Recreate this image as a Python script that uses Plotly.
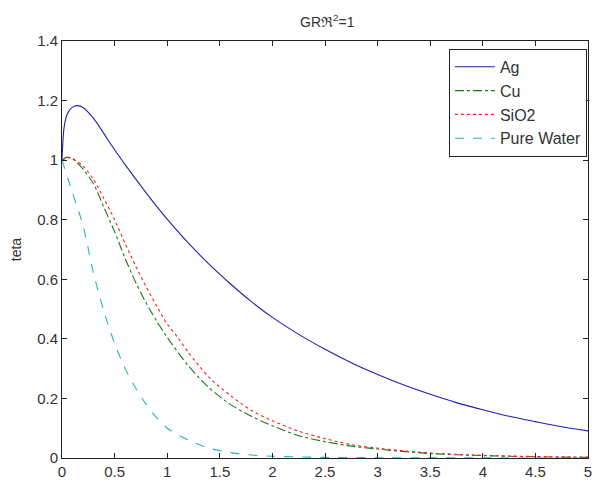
import plotly.graph_objects as go

# ---- data ----
ag_x = [0, 0.02, 0.05, 0.1, 0.15, 0.2, 0.3, 0.4, 0.5, 0.6, 0.7, 0.8, 0.9, 1.0, 1.2, 1.4, 1.6, 1.8, 2.0,
        2.25, 2.5, 2.75, 3.0, 3.25, 3.5, 3.75, 4.0, 4.25, 4.5, 4.75, 5.0]
ag_y = [1.0, 1.11, 1.155, 1.178, 1.183, 1.177, 1.14, 1.088, 1.035, 0.985, 0.937, 0.89, 0.845, 0.802,
        0.722, 0.65, 0.585, 0.525, 0.472, 0.415, 0.365, 0.32, 0.28, 0.245, 0.214, 0.186, 0.162, 0.14,
        0.122, 0.105, 0.091]

cu_x = [0, 0.05, 0.1, 0.2, 0.3, 0.4, 0.5, 0.6, 0.7, 0.8, 0.9, 1.0, 1.2, 1.4, 1.6, 1.8, 2.0, 2.25, 2.5,
        2.75, 3.0, 3.5, 4.0, 4.5, 5.0]
cu_y = [1.0, 1.01, 1.005, 0.97, 0.92, 0.84, 0.76, 0.67, 0.59, 0.52, 0.46, 0.405, 0.31, 0.235, 0.18,
        0.14, 0.108, 0.075, 0.055, 0.04, 0.03, 0.015, 0.008, 0.004, 0.002]

sio2_x = [0, 0.05, 0.1, 0.2, 0.3, 0.4, 0.5, 0.6, 0.7, 0.8, 0.9, 1.0, 1.1, 1.2, 1.4, 1.6, 1.8, 2.0, 2.25,
          2.5, 2.75, 3.0, 3.5, 4.0, 4.5, 5.0]
sio2_y = [1.0, 1.008, 1.005, 0.98, 0.935, 0.87, 0.8, 0.72, 0.645, 0.575, 0.51, 0.45, 0.405, 0.355, 0.27,
          0.21, 0.16, 0.125, 0.09, 0.065, 0.045, 0.033, 0.017, 0.009, 0.005, 0.003]

water_x = [0, 0.1, 0.2, 0.3, 0.4, 0.5, 0.6, 0.7, 0.8, 0.9, 1.0, 1.2, 1.4, 1.6, 1.8, 2.0, 2.5, 3.0, 3.5,
           4.0, 4.5, 5.0]
water_y = [1.0, 0.89, 0.78, 0.62, 0.49, 0.385, 0.3, 0.235, 0.18, 0.135, 0.1, 0.06, 0.033, 0.018, 0.01,
           0.006, 0.002, 0.001, 0.0005, 0.0003, 0.0002, 0.0001]

series = [
    ("Ag", ag_x, ag_y, "#1f1fb8", "solid"),
    ("Cu", cu_x, cu_y, "#1a7a1a", "dashdot"),
    ("SiO2", sio2_x, sio2_y, "#ff2020", "dot"),
    ("Pure Water", water_x, water_y, "#20b8c0", "dash"),
]

fig = go.Figure()
for name, xs, ys, col, dash in series:
    fig.add_trace(go.Scatter(x=xs, y=ys, mode="lines", name=name,
                             line=dict(color=col, width=1.1, dash=dash, shape="spline", smoothing=0.8)))

axis_common = dict(showline=True, linecolor="#222222", linewidth=1, mirror="ticks",
                   ticks="inside", ticklen=5, tickcolor="#222222", showgrid=False,
                   zeroline=False, tickfont=dict(size=15, color="#333333"),
                   ticklabeloverflow="allow")

fig.update_layout(
    width=595, height=483,
    margin=dict(l=62, r=3, t=41, b=21),
    paper_bgcolor="white", plot_bgcolor="white",
    font=dict(family="Liberation Sans, Arial, sans-serif", size=15, color="#333333"),
    title=dict(text="GRℜ<sup>2</sup>=1", x=0.55, xanchor="center", y=0.955, yanchor="middle",
               font=dict(size=14)),
    xaxis=dict(range=[0, 5], dtick=0.5, **axis_common),
    yaxis=dict(range=[0, 1.4], dtick=0.2, title=dict(text="teta", standoff=12, font=dict(size=14)),
               **axis_common),
    legend=dict(x=0.998, y=0.981, xanchor="right", yanchor="top", bordercolor="#222222",
                borderwidth=1, bgcolor="white", font=dict(size=16), tracegroupgap=0,
                itemwidth=40),
    showlegend=True,
)

fig.write_html("out.html")
